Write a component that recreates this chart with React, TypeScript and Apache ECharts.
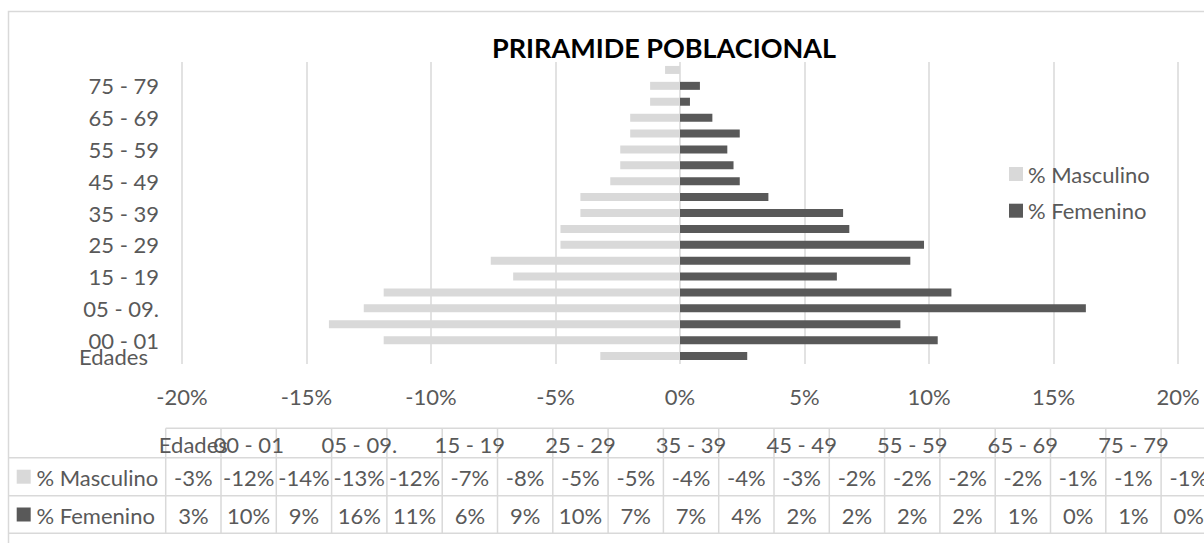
import React, { useEffect, useRef } from "react";
import * as echarts from "echarts";

// ---- data (percent) ----
const categories = [
  "Edades", "00 - 01", "", "05 - 09.", "", "15 - 19", "", "25 - 29", "", "35 - 39",
  "", "45 - 49", "", "55 - 59", "", "65 - 69", "", "75 - 79", "",
];
const masculino = [
  -3.2, -11.9, -14.1, -12.7, -11.9, -6.7, -7.6, -4.8, -4.8, -4.0,
  -4.0, -2.8, -2.4, -2.4, -2.0, -2.0, -1.2, -1.2, -0.6,
];
const femenino = [
  2.7, 10.35, 8.85, 16.3, 10.9, 6.3, 9.25, 9.8, 6.8, 6.55,
  3.55, 2.4, 2.15, 1.9, 2.4, 1.3, 0.4, 0.8, 0,
];
const xTicks = { min: -20, max: 20, interval: 5 };
const seriesNames = ["% Masculino", "% Femenino"];
const colors = ["#d9d9d9", "#595959"];
const title = "PRIRAMIDE POBLACIONAL";

// ---- style constants ----
const FONT = "Lato";
const TXT = "#595959";
const GRID = "#d9d9d9";

export default function App() {
  const ref = useRef<HTMLDivElement>(null);

  useEffect(() => {
    if (!ref.current) return;
    const chart = echarts.init(ref.current, undefined, { renderer: "svg" });

    // data table graphics
    const tLeft = 165.7;
    const colW = 55.3;
    const rowY = [428.3, 457.7, 495.7, 533.3];
    const tRight = tLeft + colW * categories.length;
    const g: any[] = [];
    const line = (x1: number, y1: number, x2: number, y2: number) =>
      g.push({
        type: "line",
        shape: { x1, y1, x2, y2 },
        style: { stroke: GRID, lineWidth: 1.5 },
        silent: true,
      });
    // outer border
    g.push({
      type: "rect",
      shape: { x: 8.5, y: 11.5, width: 1230, height: 560 },
      style: { fill: "none", stroke: GRID, lineWidth: 1.5 },
      silent: true,
    });
    line(tLeft, rowY[0], tRight, rowY[0]);
    for (let r = 1; r < rowY.length; r++) line(8.5, rowY[r], tRight, rowY[r]);
    for (let c = 0; c <= categories.length; c++) {
      const x = tLeft + c * colW;
      line(x, rowY[0], x, rowY[3]);
    }
    const text = (t: string, x: number, y: number, align: string, extra: any = {}) =>
      g.push({
        type: "text",
        x,
        y,
        silent: true,
        style: {
          text: t,
          fill: TXT,
          fontSize: 22,
          fontFamily: FONT,
          textAlign: align,
          textVerticalAlign: "middle",
          ...extra,
        },
      });
    const headY = (rowY[0] + rowY[1]) / 2;
    categories.forEach((c, i) => text(c, tLeft + (i + 0.5) * colW, headY + 1, "center"));
    const rows = [masculino, femenino];
    rows.forEach((vals, r) => {
      const y = (rowY[r + 1] + rowY[r + 2]) / 2;
      g.push({
        type: "rect",
        shape: { x: 16.7, y: y - 7, width: 14, height: 14 },
        style: { fill: colors[r] },
        silent: true,
      });
      text(seriesNames[r], 36.5, y + 1, "left");
      vals.forEach((v, i) => {
        const n = Math.round(v);
        text(`${n === 0 ? 0 : n}%`, tLeft + (i + 0.5) * colW, y + 1, "center");
      });
    });
    // title
    g.push({
      type: "text",
      x: 664,
      y: 47,
      silent: true,
      style: {
        text: title,
        fill: "#000",
        fontSize: 27,
        fontWeight: "bold",
        fontFamily: FONT,
        textAlign: "center",
        textVerticalAlign: "middle",
      },
    });

    chart.setOption({
      animation: false,
      backgroundColor: "#fff",
      grid: { left: 182, right: 26, top: 62, bottom: 179, containLabel: false },
      legend: {
        orient: "vertical",
        left: 1009,
        top: 163,
        padding: 0,
        itemWidth: 14,
        itemHeight: 14,
        itemGap: 14.7,
        icon: "rect",
        textStyle: { color: TXT, fontSize: 22, fontFamily: FONT },
        data: seriesNames,
      },
      xAxis: {
        type: "value",
        min: xTicks.min,
        max: xTicks.max,
        interval: xTicks.interval,
        axisLine: { show: false },
        axisTick: { show: false },
        axisLabel: {
          color: TXT,
          fontSize: 22,
          fontFamily: FONT,
          margin: 21,
          formatter: (v: number) => `${v}%`,
        },
        splitLine: { show: true, lineStyle: { color: GRID, width: 1.5 } },
      },
      yAxis: {
        type: "category",
        data: categories.map((c, i) =>
          i === 0 ? { value: c, textStyle: { padding: [0, 11, 0, 0] } } : c
        ),
        axisLine: { show: false, onZero: false },
        axisTick: { show: false },
        splitLine: { show: false },
        axisLabel: {
          interval: 0,
          color: TXT,
          fontSize: 22,
          fontFamily: FONT,
          margin: 23,
        },
      },
      series: [
        {
          name: seriesNames[0],
          type: "bar",
          data: masculino,
          barWidth: 8,
          barGap: "-100%",
          itemStyle: { color: colors[0] },
        },
        {
          name: seriesNames[1],
          type: "bar",
          data: femenino,
          barWidth: 8,
          barGap: "-100%",
          itemStyle: { color: colors[1] },
        },
      ],
      graphic: g,
    });
    return () => chart.dispose();
  }, []);

  return (
    <div
      ref={ref}
      style={{ position: "fixed", left: 0, top: 0, width: 1204, height: 543, background: "#fff" }}
    />
  );
}
